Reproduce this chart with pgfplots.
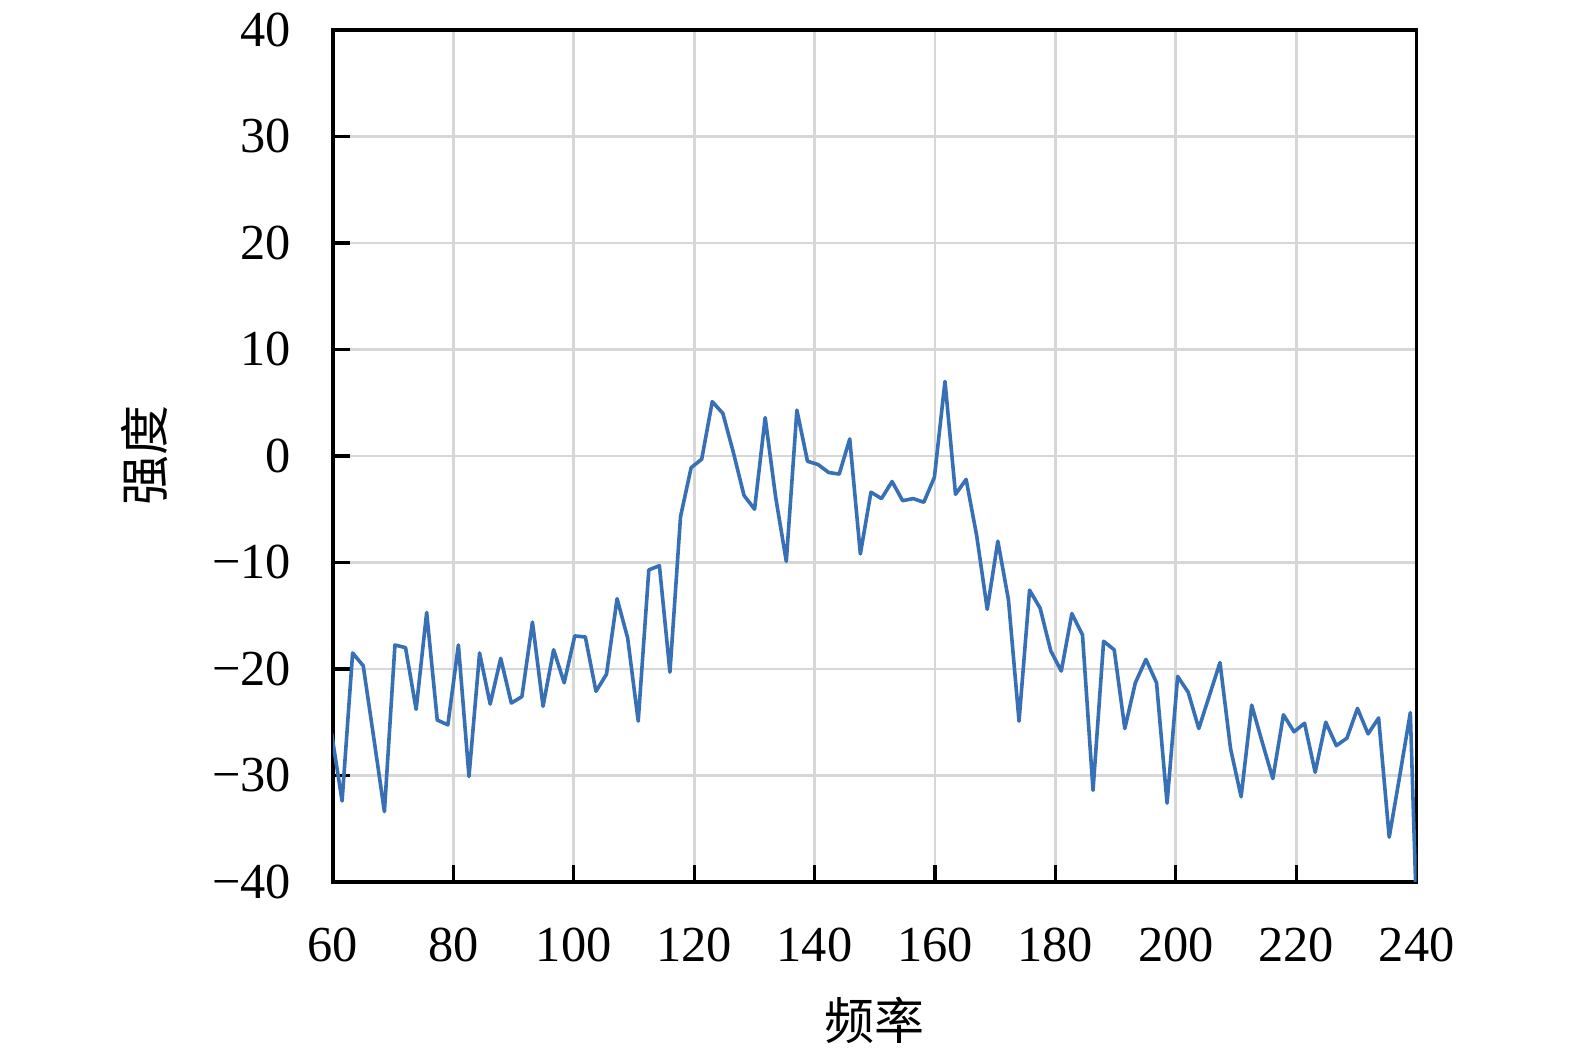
\documentclass[border=0pt]{standalone}
\usepackage{fontspec}
\setmainfont{Liberation Serif}
\newfontfamily\cjk{Noto Sans CJK SC}
\usepackage{pgfplots}
\pgfplotsset{compat=1.18}
\definecolor{lineblue}{RGB}{55,112,180}
\definecolor{gridgray}{RGB}{215,215,215}
\begin{document}
\begin{tikzpicture}
\begin{axis}[
  scale only axis,
  width=270.9pt, height=213pt,
  xmin=60, xmax=240, ymin=-40, ymax=40,
  xtick={60,80,...,240},
  ytick={-40,-30,...,40},
  xticklabels={60,80,100,120,140,160,180,200,220,240},
  yticklabels={−40,−30,−20,−10,0,10,20,30,40},
  tick align=inside,
  xtick pos=left, ytick pos=left,
  major tick length=4.2pt,
  tick style={black, line width=0.8pt},
  axis line style={black, line width=0.8pt},
  grid=major,
  major grid style={gridgray, line width=0.7pt},
  xticklabel style={anchor=north, inner sep=0pt, yshift=-11.25pt, font=\fontsize{12.6}{14}\selectfont},
  yticklabel style={anchor=east, inner sep=0pt, xshift=-10.25pt, font=\fontsize{12.6}{14}\selectfont},
  xlabel={频率},
  ylabel={强度},
  xlabel style={at={(axis description cs:0.5,0)}, anchor=center, yshift=-34.5pt, font=\cjk\fontsize{12.5}{14}\selectfont},
  ylabel style={at={(axis description cs:0,0.5)}, anchor=center, yshift=47pt, font=\cjk\fontsize{12.5}{14}\selectfont},
  clip=true,
]
\addplot[lineblue, line width=0.9pt, line join=round] coordinates {
(59.75,-26) (61.51,-32.4) (63.26,-18.5) (65.02,-19.7) (66.78,-26.5)
(68.54,-33.4) (70.29,-17.75) (72.05,-18.0) (73.81,-23.8) (75.56,-14.7)
(77.32,-24.8) (79.08,-25.25) (80.83,-17.75) (82.59,-30.1) (84.35,-18.5)
(86.11,-23.3) (87.86,-19.0) (89.62,-23.2) (91.38,-22.6) (93.13,-15.6)
(94.89,-23.5) (96.65,-18.2) (98.40,-21.3) (100.16,-16.9) (101.92,-17.0)
(103.68,-22.1) (105.43,-20.5) (107.19,-13.4) (108.95,-17.1) (110.70,-24.9)
(112.46,-10.7) (114.22,-10.3) (115.97,-20.3) (117.73,-5.7) (119.49,-1.1)
(121.25,-0.3) (123.00,5.1) (124.76,4.0) (126.52,0.3) (128.27,-3.7)
(130.03,-5.0) (131.79,3.6) (133.54,-3.9) (135.30,-9.9) (137.06,4.3)
(138.82,-0.5) (140.57,-0.8) (142.33,-1.55) (144.09,-1.7) (145.84,1.6)
(147.60,-9.2) (149.36,-3.4) (151.11,-4.0) (152.87,-2.4) (154.63,-4.2)
(156.39,-4.0) (158.14,-4.35) (159.90,-2.0) (161.66,7.0) (163.41,-3.6)
(165.17,-2.2) (166.93,-7.5) (168.68,-14.4) (170.44,-8.0) (172.20,-13.5)
(173.96,-24.9) (175.71,-12.6) (177.47,-14.3) (179.23,-18.3) (180.98,-20.2)
(182.74,-14.8) (184.50,-16.8) (186.25,-31.4) (188.01,-17.4) (189.77,-18.2)
(191.53,-25.6) (193.28,-21.3) (195.04,-19.1) (196.80,-21.3) (198.55,-32.6)
(200.31,-20.7) (202.07,-22.2) (203.82,-25.6) (205.58,-22.5) (207.34,-19.4)
(209.10,-27.5) (210.85,-32.0) (212.61,-23.4) (214.37,-26.9) (216.12,-30.3)
(217.88,-24.3) (219.64,-25.9) (221.39,-25.1) (223.15,-29.7) (224.91,-25.0)
(226.67,-27.2) (228.42,-26.5) (230.18,-23.7) (231.94,-26.1) (233.69,-24.6)
(235.45,-35.8) (237.21,-30.0) (238.96,-24.1) (240.10,-45)
};
\end{axis}
\path[use as bounding box] ([shift={(-83.25pt,-43.75pt)}]current axis.south west) rectangle ([shift={(39.6pt,7.5pt)}]current axis.north east);
\end{tikzpicture}
\end{document}
